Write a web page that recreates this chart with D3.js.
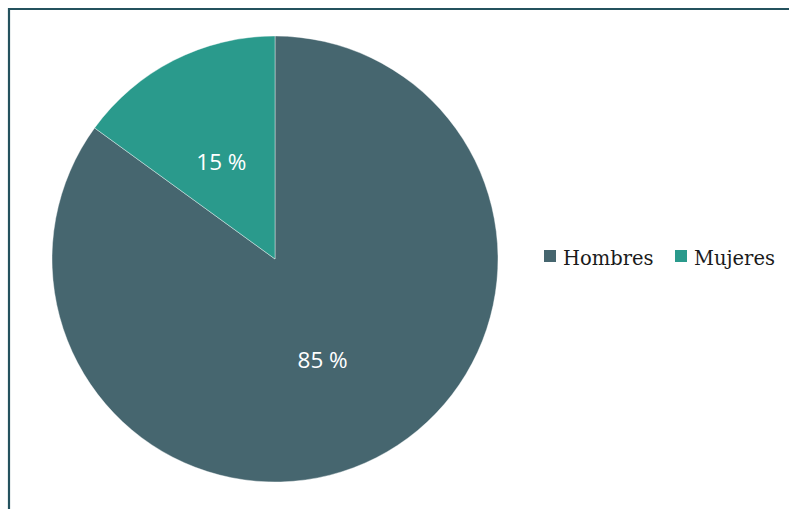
<!DOCTYPE html>
<html><head><meta charset="utf-8">
<script src="https://cdn.jsdelivr.net/npm/d3@7"></script>
<style>html,body{margin:0;padding:0;background:#fff;}svg{display:block;}</style>
</head><body>
<svg id="c" width="789" height="509"></svg>
<script>
const categories = ["Hombres", "Mujeres"];
const values = [85, 15];
const labels = ["85 %", "15 %"];
const colors = ["#46666f", "#2a9a8c"];

const svg = d3.select("#c");
svg.append("path").attr("d", "M9,520 L9,9 L800,9").attr("fill", "none")
  .attr("stroke", "#24525e").attr("stroke-width", 2.2);

const cx = 275, cy = 259, r = 223;
const g = svg.append("g").attr("transform", `translate(${cx},${cy})`);
const data = categories.map((c, i) => ({cat: c, v: values[i], label: labels[i]}));
const pie = d3.pie().sort(null).value(d => d.v);
const arc = d3.arc().innerRadius(0).outerRadius(r);
const labelArc = d3.arc().innerRadius(r * 0.5).outerRadius(r * 0.5);
const color = d3.scaleOrdinal().domain(categories).range(colors);
const arcs = pie(data);
g.selectAll("path.s").data(arcs).join("path").attr("class", "s")
  .attr("d", arc).attr("fill", d => color(d.data.cat))
  .attr("stroke", "#fff").attr("stroke-width", 0.4);
g.selectAll("text.l").data(arcs).join("text").attr("class", "l")
  .attr("transform", d => { const c = labelArc.centroid(d); return `translate(${c[0] - 3},${c[1] + 2})`; })
  .attr("text-anchor", "middle").attr("dy", "0.35em")
  .attr("fill", "#fff").attr("font-family", "'Open Sans', sans-serif")
  .attr("font-size", 22.5).text(d => d.data.label);

const legendX = [544, 675];
const lg = svg.selectAll("g.lg").data(categories).join("g").attr("class", "lg")
  .attr("transform", (d, i) => `translate(${legendX[i]},250)`);
lg.append("rect").attr("width", 12).attr("height", 12).attr("fill", d => color(d));
lg.append("text").attr("x", 19).attr("y", 14.5)
  .attr("font-family", "'DejaVu Serif', serif").attr("font-size", 19.5)
  .attr("fill", "#1a1a1a").text(d => d);
</script>
</body></html>
